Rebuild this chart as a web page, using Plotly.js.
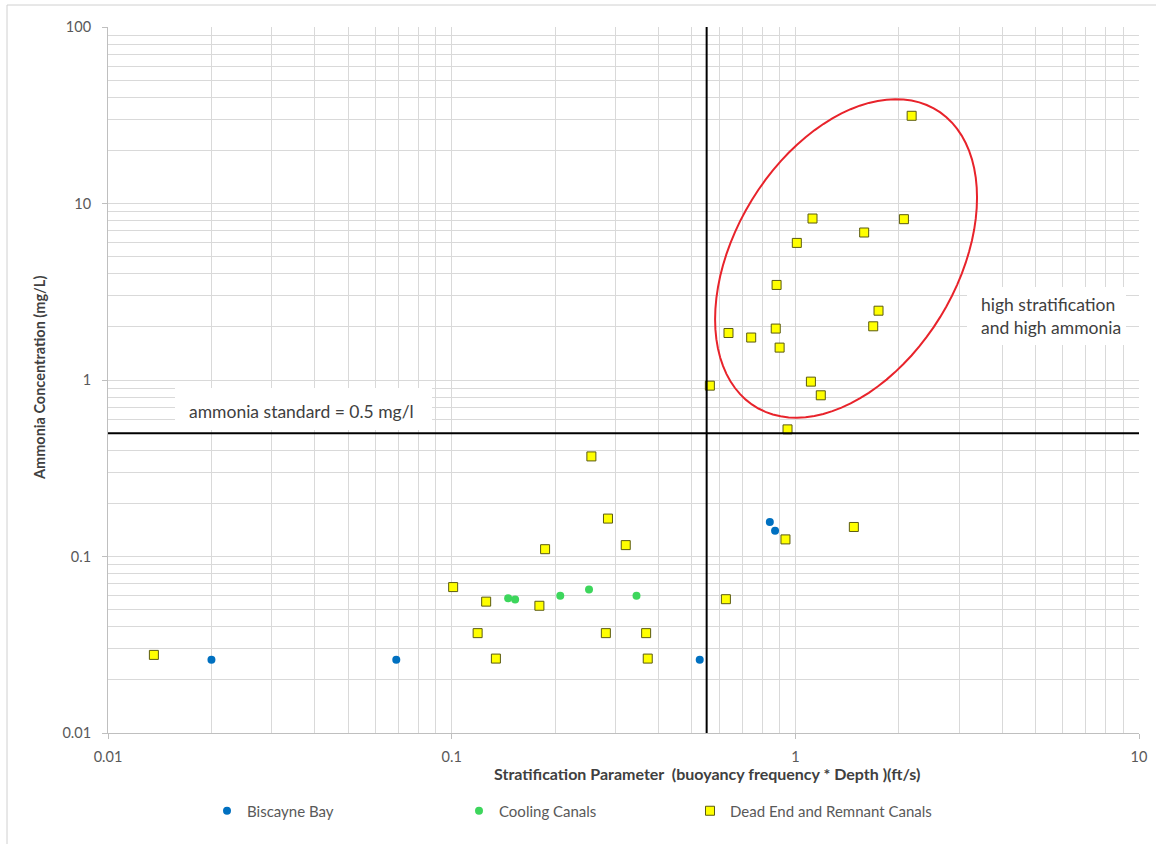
<!DOCTYPE html>
<html>
<head>
<meta charset="utf-8">
<script src="https://cdn.plot.ly/plotly-3.0.1.min.js"></script>
<style>html,body{margin:0;padding:0;background:#fff;}#chart{width:1156px;height:844px;}</style>
</head>
<body>
<div id="chart"></div>
<script>
// ---- data ----
var biscayneX = [0.020, 0.069, 0.527, 0.843, 0.873];
var biscayneY = [0.026, 0.026, 0.026, 0.157, 0.140];

var coolingX = [0.146, 0.153, 0.207, 0.251, 0.345];
var coolingY = [0.058, 0.057, 0.060, 0.065, 0.060];

var deadEndX = [0.0136, 0.101, 0.126, 0.119, 0.1345, 0.180, 0.187, 0.255, 0.285, 0.281, 0.321, 0.368, 0.372, 0.628, 0.936, 1.48, 0.949,
                0.564, 0.639, 0.744, 0.877, 0.900, 0.882, 1.01, 1.122, 1.586, 2.07, 2.18, 1.746, 1.685, 1.11, 1.186];
var deadEndY = [0.0277, 0.0671, 0.0555, 0.0368, 0.0264, 0.0526, 0.110, 0.369, 0.164, 0.0368, 0.116, 0.0368, 0.0264, 0.0573, 0.125, 0.147, 0.525,
                0.929, 1.846, 1.74, 1.956, 1.526, 3.456, 5.98, 8.22, 6.85, 8.15, 31.4, 2.47, 2.015, 0.979, 0.819];

var seriesNames = ["Biscayne Bay", "Cooling Canals", "Dead End and Remnant Canals"];
var ammoniaStandard = 0.5;      // horizontal reference line (mg/L)
var stratThreshold = 0.552;     // vertical reference line (ft/s)
var xTitle = "Stratification Parameter  (buoyancy frequency * Depth )(ft/s)";
var yTitle = "Ammonia Concentration (mg/L)";
var standardLabel = "ammonia standard = 0.5 mg/l";
var zoneLabel = "high stratification<br>and high ammonia";

// ---- ellipse highlighting the high-stratification zone (in log10 units) ----
var ellCenter = [0.1476, 0.6888];
var ellA = [0.3811, 0.0];       // x = cx + ellA[0]*cos t + ellA[1]*sin t
var ellB = [0.3447, -0.8339];   // y = cy + ellB[0]*cos t + ellB[1]*sin t
function ellipsePath() {
  var p = "";
  var n = 90;
  for (var i = 0; i <= n; i++) {
    var t = 2 * Math.PI * i / n;
    var lx = ellCenter[0] + ellA[0] * Math.cos(t) + ellA[1] * Math.sin(t);
    var ly = ellCenter[1] + ellB[0] * Math.cos(t) + ellB[1] * Math.sin(t);
    p += (i === 0 ? "M" : "L") + Math.pow(10, lx).toFixed(5) + "," + Math.pow(10, ly).toFixed(5);
  }
  return p + "Z";
}

var FONT = "Lato, 'Open Sans', sans-serif";
var GRID = "#d9d9d9";

var traces = [
  {x: biscayneX, y: biscayneY, name: seriesNames[0], type: "scatter", mode: "markers",
   marker: {symbol: "circle", size: 8, color: "#0070C0"}, legend: "legend"},
  {x: coolingX, y: coolingY, name: seriesNames[1], type: "scatter", mode: "markers",
   marker: {symbol: "circle", size: 8, color: "#3DD65C"}, legend: "legend2"},
  {x: deadEndX, y: deadEndY, name: seriesNames[2], type: "scatter", mode: "markers",
   marker: {symbol: "square", size: 9, color: "#FFFF00", line: {color: "#5b5b10", width: 1}}, legend: "legend3"}
];

// pixel helpers for paper placement (plot area: x 108..1139, y 27..733)
function px(v) { return (v - 108) / 1031; }
function py(v) { return (733 - v) / 706; }

var legendBase = {orientation: "h", bgcolor: "rgba(0,0,0,0)", font: {family: FONT, size: 15, color: "#595959"},
                  xanchor: "left", yanchor: "middle", y: py(811), itemwidth: 30};

var layout = {
  width: 1156, height: 844,
  margin: {l: 108, r: 17, t: 27, b: 111},
  paper_bgcolor: "#ffffff", plot_bgcolor: "#ffffff",
  font: {family: FONT, color: "#595959"},
  showlegend: true,
  legend: Object.assign({}, legendBase, {x: px(207)}),
  legend2: Object.assign({}, legendBase, {x: px(459)}),
  legend3: Object.assign({}, legendBase, {x: px(690)}),
  xaxis: {type: "log", range: [-2, 1], dtick: 1, showgrid: true, gridcolor: GRID, gridwidth: 1,
          minor: {dtick: "D1", showgrid: true, gridcolor: GRID, gridwidth: 1},
          showline: true, linecolor: "#bfbfbf", linewidth: 1, mirror: false,
          ticks: "outside", ticklen: 5, tickcolor: "#bfbfbf", zeroline: false,
          tickfont: {family: FONT, size: 14.5, color: "#595959"}, ticklabelstandoff: 6, fixedrange: true},
  yaxis: {type: "log", range: [-2, 2], dtick: 1, showgrid: true, gridcolor: GRID, gridwidth: 1,
          minor: {dtick: "D1", showgrid: true, gridcolor: GRID, gridwidth: 1},
          showline: true, linecolor: "#bfbfbf", linewidth: 1,
          ticks: "outside", ticklen: 5, tickcolor: "#bfbfbf", zeroline: false,
          tickfont: {family: FONT, size: 14.5, color: "#595959"}, ticklabelstandoff: 8, fixedrange: true},
  shapes: [
    // outer chart frame
    {type: "rect", xref: "paper", yref: "paper", x0: px(7), x1: px(1170), y0: py(5), y1: py(860),
     line: {color: "#d0d0d0", width: 1}, fillcolor: "rgba(0,0,0,0)", layer: "below"},
    // reference lines
    {type: "line", xref: "paper", yref: "y", x0: 0, x1: 1, y0: ammoniaStandard, y1: ammoniaStandard,
     line: {color: "#000000", width: 2}},
    {type: "line", xref: "x", yref: "paper", x0: stratThreshold, x1: stratThreshold, y0: 0, y1: 1,
     line: {color: "#000000", width: 2}},
    // white label boxes
    {type: "rect", xref: "paper", yref: "paper", x0: px(175), x1: px(432), y0: py(430), y1: py(388),
     fillcolor: "#ffffff", line: {width: 0}, layer: "above"},
    {type: "rect", xref: "paper", yref: "paper", x0: px(967), x1: px(1126), y0: py(345), y1: py(287),
     fillcolor: "#ffffff", line: {width: 0}, layer: "above"},
    // ellipse
    {type: "path", xref: "x", yref: "y", path: ellipsePath(), line: {color: "#e8232b", width: 2},
     fillcolor: "rgba(0,0,0,0)", layer: "above"}
  ],
  annotations: [
    {xref: "paper", yref: "paper", x: px(301), y: py(411), text: standardLabel, showarrow: false,
     xanchor: "center", yanchor: "middle", font: {family: FONT, size: 17.5, color: "#404040"}},
    {xref: "paper", yref: "paper", x: px(979), y: py(316), text: zoneLabel, showarrow: false,
     xanchor: "left", yanchor: "middle", align: "left", font: {family: FONT, size: 17.5, color: "#404040"}},
    {xref: "paper", yref: "paper", x: px(707), y: py(773), text: "<b>" + xTitle + "</b>", showarrow: false,
     xanchor: "center", yanchor: "middle", font: {family: FONT, size: 16, color: "#404040"}},
    {xref: "paper", yref: "paper", x: px(40), y: py(378), text: "<b>" + yTitle + "</b>", showarrow: false,
     textangle: -90, xanchor: "center", yanchor: "middle", font: {family: FONT, size: 14.5, color: "#404040"}}
  ]
};

Plotly.newPlot("chart", traces, layout, {displayModeBar: false, staticPlot: true});
</script>
</body>
</html>
